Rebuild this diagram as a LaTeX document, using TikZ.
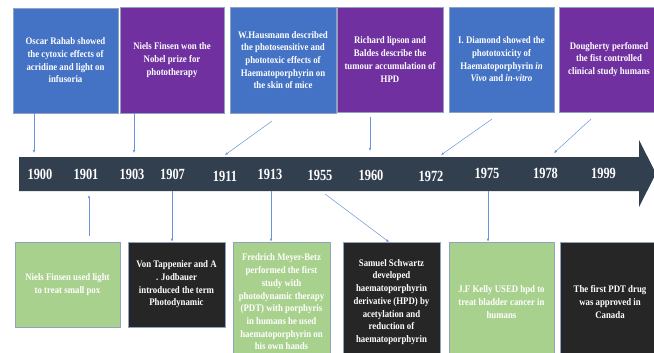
\documentclass[tikz,border=0pt]{standalone}
\usepackage{fontspec}
\setmainfont{Liberation Serif}
\newfontfamily\condfont[FakeStretch=0.88]{Liberation Serif}
\newfontfamily\yrfont[FakeStretch=0.8]{Liberation Serif}
\usetikzlibrary{arrows.meta}
\definecolor{cblue}{HTML}{4472C4}
\definecolor{cpurple}{HTML}{7030A0}
\definecolor{cgreen}{HTML}{A9D18E}
\definecolor{cblack}{HTML}{262626}
\definecolor{carrow}{HTML}{323F4F}
\definecolor{cline}{HTML}{6A94D8}
\definecolor{cedge}{HTML}{8FA3C0}
\begin{document}
\begin{tikzpicture}[x=1pt,y=-1pt,
  box/.style={draw=cedge, line width=0.6pt, inner sep=2pt, align=center,
    text=white, font=\condfont\fontsize{10}{12.7}\selectfont\bfseries},
  yr/.style={text=white, font=\yrfont\fontsize{15.5}{16}\selectfont\bfseries},
  conn/.style={cline, line width=0.5pt, -{Latex[length=3pt,width=2.5pt]}}]
\useasboundingbox (0,0) rectangle (654,353);
\clip (0,0) rectangle (654,353);
\fill[white] (0,0) rectangle (654,353);
% top boxes
\node[box, fill=cblue, minimum width=105pt, minimum height=105pt] (t1) at (65.5,60.5) {Oscar Rahab showed\\the cytoxic effects of\\acridine and light on\\infusoria};
\node[box, fill=cpurple, minimum width=104pt, minimum height=106pt] (t2) at (172,60) {Niels Finsen won the\\Nobel prize for\\phototherapy};
\node[box, fill=cblue, minimum width=106pt, minimum height=106pt] (t3) at (283,60) {W.Hausmann described\\the photosensitive and\\phototoxic effects of\\Haematoporphyrin on\\the skin of mice};
\node[box, fill=cpurple, minimum width=106pt, minimum height=105pt] (t4) at (390,59.5) {Richard lipson and\\Baldes describe the\\tumour accumulation of\\HPD};
\node[box, fill=cblue, minimum width=105pt, minimum height=105pt] (t5) at (501.5,59.5) {I. Diamond showed the\\phototoxicity of\\Haematoporphyrin \textit{in}\\\textit{Vivo} and \textit{in-vitro}};
\node[box, fill=cpurple, minimum width=100pt, minimum height=105pt] (t6) at (609,59.5) {Dougherty perfomed\\the fist controlled\\clinical study humans};
% timeline arrow
\fill[carrow] (19,157) -- (639,157) -- (639,140) -- (656,173.5) -- (639,207) -- (639,191) -- (19,191) -- cycle;
\foreach \n/\x/\y in {1900/40/174,1901/86/174,1903/132/174,1907/172.5/174,1911/225/176,1913/270/174,1955/320/175,1960/371/175,1972/431/176,1975/487/173,1978/545.5/173,1999/603.5/173}{
  \node[yr] (y\n) at (\x,\y) {\n};
}
% anchor points on the timeline
\coordinate (a1900) at (34,153);
\coordinate (a1903) at (134,153);
\coordinate (a1911) at (225,155);
\coordinate (a1960) at (370,151);
\coordinate (a1972) at (441,155);
\coordinate (a1978) at (554,153);
\coordinate (a1901) at (89,195);
\coordinate (b1907) at (172,191);
\coordinate (b1913) at (271,191);
\coordinate (b1955) at (325,194);
\coordinate (b1975) at (488,191);
% top connectors
\draw[conn] (t1.south -| a1900) -- (a1900);
\draw[conn] (t2.south -| a1903) -- (a1903);
\coordinate (s3) at (272,121);
\draw[conn] (s3) -- (a1911);
\draw[conn] ([yshift=-5pt]t4.south -| a1960) -- (a1960);
\coordinate (s5) at (492,119);
\draw[conn] (s5) -- (a1972);
\coordinate (s6) at (591,119);
\draw[conn] (s6) -- (a1978);
% bottom boxes
\node[box, fill=cgreen, minimum width=105pt, minimum height=85pt] (b1) at (67.5,284.5) {Niels Finsen used light\\to treat small pox};
\node[box, fill=cblack, minimum width=97pt, minimum height=85pt] (b2) at (176.5,284.5) {Von Tappenier and A\\. Jodbauer\\introduced the term\\Photodynamic};
\node[box, fill=cgreen, minimum width=97pt, minimum height=120pt] (b3) at (281.5,302) {Fredrich Meyer-Betz\\performed the first\\study with\\photodynamic therapy\\(PDT) with porphyris\\in humans he used\\haematoporphyrin on\\his own hands};
\node[box, fill=cblack, minimum width=97pt, minimum height=120pt] (b4) at (391.5,302) {Samuel Schwartz\\developed\\haematoporphyrin\\derivative (HPD) by\\acetylation and\\reduction of\\haematoporphyrin};
\node[box, fill=cgreen, minimum width=105pt, minimum height=120pt] (b5) at (501.5,302) {J.F Kelly USED hpd to\\treat bladder cancer in\\humans};
\node[box, fill=cblack, minimum width=100pt, minimum height=120pt] (b6) at (610,302) {The first PDT drug\\was approved in\\Canada};
% bottom connectors
\coordinate (s1901) at (89,236);
\draw[conn] (s1901) -- (a1901);
\draw[conn] (b1907) -- (b2.north -| b1907);
\draw[conn] (b1913) -- (b3.north -| b1913);
\coordinate (e1955) at (389,242);
\draw[conn] (b1955) -- (e1955);
\draw[conn] (b1975) -- (b5.north -| b1975);
\end{tikzpicture}
\end{document}
